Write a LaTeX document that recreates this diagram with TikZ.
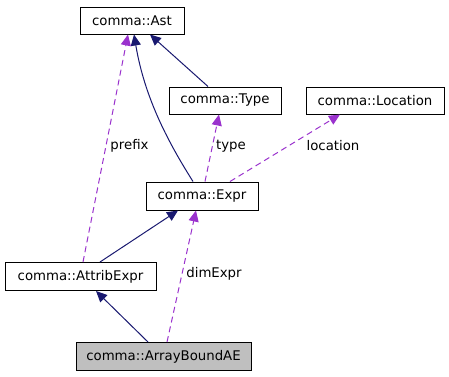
\documentclass[tikz,border=0pt]{standalone}
\usepackage{fontspec}
\setmainfont{DejaVu Sans}
\usetikzlibrary{arrows.meta,calc}
\definecolor{navy}{HTML}{191970}
\definecolor{orchid}{HTML}{9A32CD}
\tikzset{
  cls/.style={draw=black, line width=1pt, fill=white, inner sep=0pt, font=\fontsize{13.3}{15}\selectfont},
  inh/.style={draw=navy, line width=1pt, -{Triangle[length=11pt,width=10pt]}},
  use/.style={draw=orchid, line width=1pt, dash pattern=on 6pt off 4pt, -{Triangle[length=11pt,width=10pt]}},
  lbl/.style={font=\fontsize{13.3}{15}\selectfont, inner sep=0pt}
}
\begin{document}
\begin{tikzpicture}[x=1pt,y=-1pt]
\useasboundingbox (0,0) rectangle (449,376);
\node[cls, minimum width=104pt, minimum height=27pt] (ast) at (132,20.5) {comma::Ast};
\node[cls, minimum width=112pt, minimum height=27pt] (type) at (225,100.5) {comma::Type};
\node[cls, minimum width=138pt, minimum height=27pt] (loc) at (375,100.5) {comma::Location};
\node[cls, minimum width=112pt, minimum height=28pt] (expr) at (202,196) {comma::Expr};
\node[cls, minimum width=151pt, minimum height=28pt] (attr) at (80.5,276.5) {comma::AttribExpr};
\node[cls, fill={rgb,255:red,191;green,191;blue,191}, minimum width=175pt, minimum height=28pt] (abae) at (163.5,356.5) {comma::ArrayBoundAE};

\draw[inh] ($(type.north)+(-17,0)$) -- ($(ast.south)+(18,0)$);
\draw[inh] ($(expr.north)+(-9,0)$) .. controls (170,145) and (145,100) .. ($(ast.south)+(2,0)$);
\draw[use] ($(attr.north)+(2.5,0)$) -- ($(ast.south)+(-4,0)$);
\draw[use] ($(expr.north)+(3,0)$) -- ($(type.south)+(-6,0)$);
\draw[use] ($(expr.north)+(28,0)$) -- ($(loc.south)+(-35,0)$);
\draw[inh] ($(attr.north)+(19.5,0)$) -- ($(expr.south)+(-24,0)$);
\draw[inh] ($(abae.north)+(-15.5,0)$) -- ($(attr.south)+(15.5,0)$);
\draw[use] ($(abae.north)+(3.5,0)$) -- ($(expr.south)+(-6,0)$);

\node[lbl] (lprefix) at (129.5,146) {prefix};
\node[lbl] (ltype) at (231,146) {type};
\node[lbl] (lloc) at (333,146) {location};
\node[lbl] (ldim) at (214,274) {dimExpr};
\end{tikzpicture}
\end{document}
